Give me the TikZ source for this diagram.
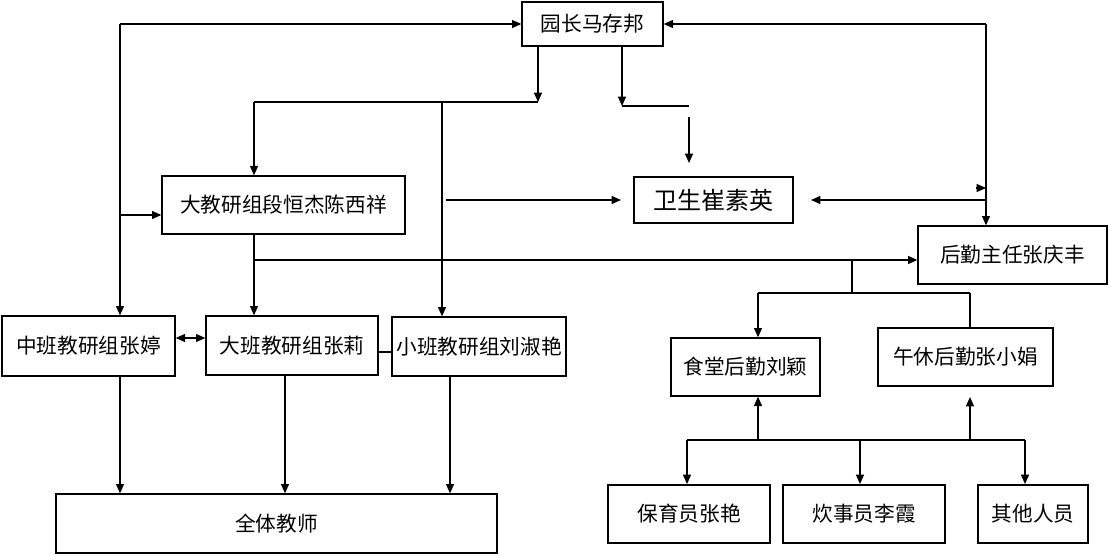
\documentclass[tikz,border=0pt]{standalone}
\usepackage{fontspec}
\setmainfont{Noto Sans CJK SC}
\usetikzlibrary{arrows.meta,calc}
\begin{document}
\begin{tikzpicture}[x=0.75pt,y=-0.75pt,
  box/.style={draw,line width=1pt,inner sep=0pt,font=\fontsize{15.5}{18}\selectfont},
  hbox/.style={box,line width=1.5pt},
  arr/.style={-{Triangle[length=7pt,width=6pt]},line width=0.9pt},
  darr/.style={{Triangle[length=7pt,width=6pt]}-{Triangle[length=7pt,width=6pt]},line width=0.9pt},
  ln/.style={line width=0.9pt}]
\useasboundingbox (0,0) rectangle (1109,556);
% boxes
\node[box,minimum width=105.75pt,minimum height=33pt] (yz) at (592.5,24) {园长马存邦};
\node[box,minimum width=182.25pt,minimum height=43.5pt] (dj) at (283.5,205) {大教研组段恒杰陈西祥};
\node[box,minimum width=119.25pt,minimum height=34.5pt,font=\fontsize{18}{20}\selectfont] (ws) at (713.5,200) {卫生崔素英\hspace{10pt}};
\node[box,minimum width=141.75pt,minimum height=43.5pt] (hq) at (1012.5,255) {后勤主任张庆丰};
\node[box,minimum width=129.75pt,minimum height=45pt] (zb) at (88.5,346) {中班教研组张婷};
\node[box,minimum width=129pt,minimum height=44.25pt] (db) at (292,345.5) {大班教研组张莉};
\node[box,minimum width=130.5pt,minimum height=44.25pt] (xb) at (479,346.5) {小班教研组刘淑艳};
\node[box,minimum width=330.75pt,minimum height=44.25pt] (qj) at (276.5,523.5) {全体教师};
\node[box,minimum width=111.75pt,minimum height=43.5pt] (st) at (745.5,367) {食堂后勤刘颖};
\node[box,minimum width=131.25pt,minimum height=43.5pt] (wx) at (965.5,357) {午休后勤张小娟};
\node[hbox,minimum width=121.5pt,minimum height=43.5pt] (by) at (689,514) {保育员张艳};
\node[hbox,minimum width=121.5pt,minimum height=43.5pt] (cs) at (864,514) {炊事员李霞};
\node[hbox,minimum width=82.5pt,minimum height=43.5pt] (qt) at (1033,514) {其他人员};
% left loop
\coordinate (pL) at (120,24);
\coordinate (pL2) at (120,215);
\draw[arr] (pL) -- (yz.west);
\draw[arr] (pL) -- (zb.north -| pL);
\draw[arr] (pL2) -- (dj.west |- pL2);
% from director, left branch
\coordinate (pA) at (538,102);
\coordinate (pB) at (254,102);
\coordinate (pC) at (442,102);
\draw[arr] (yz.south -| pA) -- (pA);
\draw[ln] (pA) -- (pB);
\draw[arr] (pB) -- (dj.north -| pB);
\draw[arr] (pC) -- (xb.north -| pC);
% from director, right branch
\coordinate (pD) at (622,106);
\coordinate (pE) at (689,106);
\coordinate (pF) at (689,117);
\coordinate (pF2) at (689,163);
\draw[arr] (yz.south -| pD) -- (pD);
\draw[ln] (pD) -- (pE);
\draw[arr] (pF) -- (pF2);
% arrow to health
\coordinate (pG) at (446,200);
\coordinate (pG2) at (621,200);
\draw[arr] (pG) -- (pG2);
% right loop
\coordinate (pR) at (986,24);
\coordinate (pR2) at (986,200);
\coordinate (pR3) at (811,200);
\coordinate (pS1) at (976,188);
\coordinate (pS2) at (986,188);
\draw[arr] (pR) -- (yz.east);
\draw[arr] (pR) -- (hq.north -| pR);
\draw[arr] (pR2) -- (pR3);
\draw[arr] (pS1) -- (pS2);
% thick line to logistics
\coordinate (pT) at (254,260);
\coordinate (pT2) at (820,260);
\draw[line width=1.8pt] (pT) -- (pT2);
\draw[arr,line width=1.2pt] (pT2) -- (hq.west |- pT);
\draw[arr] (dj.south -| pT) -- (db.north -| pT);
% logistics branches
\coordinate (pH) at (852,260);
\coordinate (pH2) at (852,293);
\coordinate (pI) at (758,293);
\coordinate (pJ) at (970,293);
\draw[ln] (pH) -- (pH2);
\draw[ln] (pI) -- (pJ);
\draw[arr] (pI) -- (st.north -| pI);
\draw[ln] (pJ) -- (wx.north -| pJ);
% bottom bus
\coordinate (pK1) at (687,440);
\coordinate (pK2) at (1025,440);
\coordinate (pK3) at (860,440);
\coordinate (pK4) at (758,440);
\coordinate (pK5) at (970,440);
\coordinate (pK6) at (970,397);
\draw[line width=1.3pt] (pK1) -- (pK2);
\draw[arr] (pK1) -- (by.north -| pK1);
\draw[arr] (pK3) -- (cs.north -| pK3);
\draw[arr] (pK2) -- (qt.north -| pK2);
\draw[arr] (pK4) -- (st.south -| pK4);
\draw[arr] (pK5) -- (pK6);
% between class groups
\coordinate (pM) at (175,338);
\coordinate (pN) at (380,352);
\draw[darr] (zb.east |- pM) -- (db.west |- pM);
\draw[ln] (db.east |- pN) -- (xb.west |- pN);
% down to all teachers
\coordinate (x285) at (285,0);
\coordinate (x450) at (450,0);
\draw[arr] (zb.south -| pL) -- (qj.north -| pL);
\draw[arr] (db.south -| x285) -- (qj.north -| x285);
\draw[arr] (xb.south -| x450) -- (qj.north -| x450);
\end{tikzpicture}
\end{document}
